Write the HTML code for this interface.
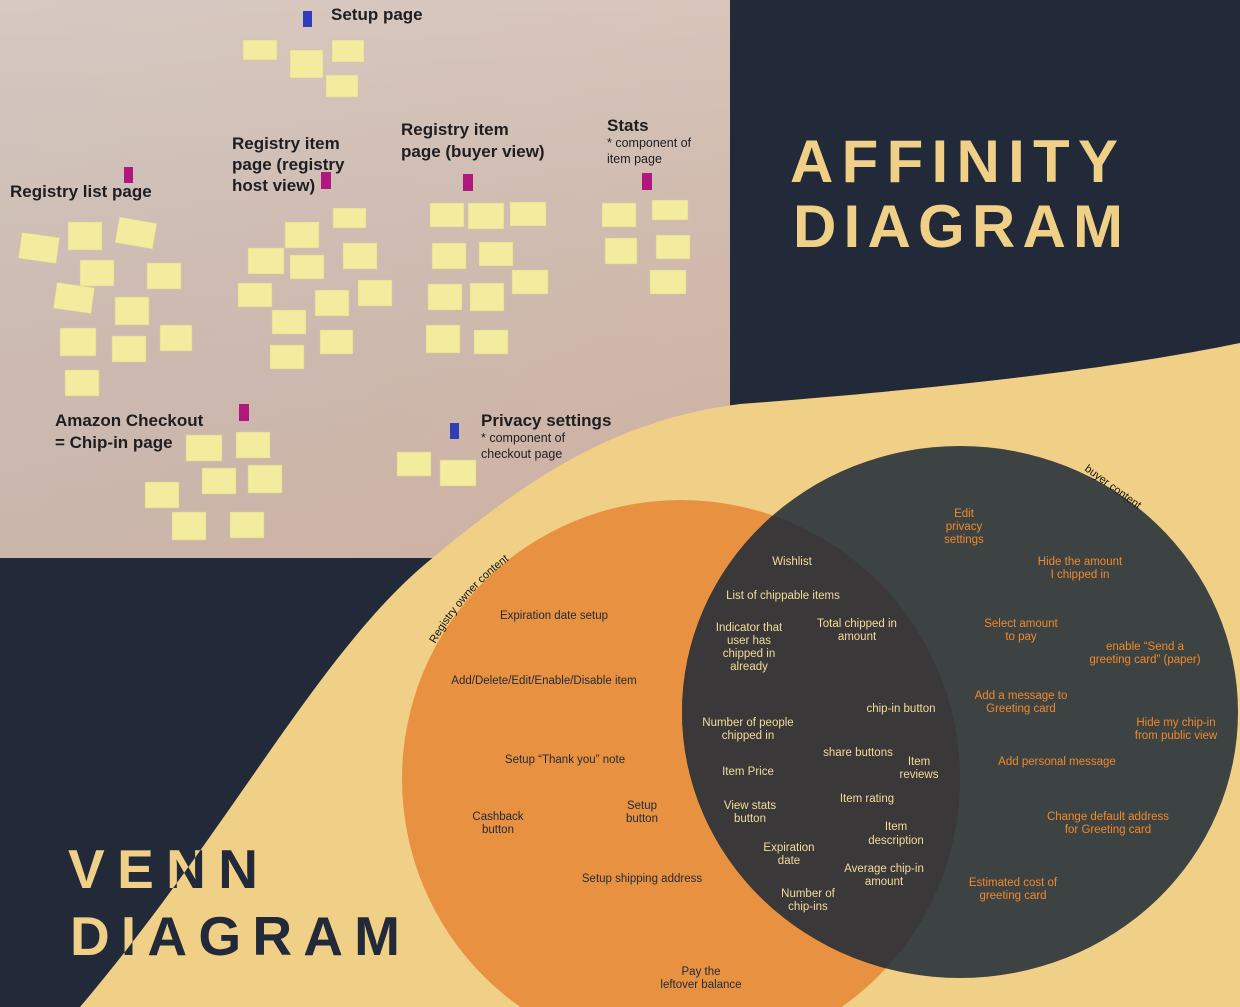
<!DOCTYPE html>
<html><head><meta charset="utf-8"><style>
html,body{margin:0;padding:0;background:#222a39;width:1240px;height:1007px;overflow:hidden;}
svg{display:block}
</style></head><body>
<svg width="1240" height="1007" viewBox="0 0 1240 1007" xmlns="http://www.w3.org/2000/svg" font-family="Liberation Sans, sans-serif">
<defs>
<linearGradient id="wall" x1="0" y1="0" x2="1" y2="1">
<stop offset="0" stop-color="#d6c9c2"/><stop offset="0.55" stop-color="#d8c4b9"/><stop offset="1" stop-color="#dcbfae"/>
</linearGradient>
<linearGradient id="wall2" x1="0" y1="0" x2="0" y2="1">
<stop offset="0" stop-color="#000" stop-opacity="0"/><stop offset="1" stop-color="#6a4a40" stop-opacity="0.12"/>
</linearGradient>
<clipPath id="wave"><path d="M80,1007 C230,830 320,650 430,560 C520,485 610,420 740,404 C900,392 1100,372 1240,343 L1240,1007 Z"/></clipPath>
<clipPath id="dk"><ellipse cx="960" cy="712" rx="278" ry="266"/></clipPath>
<path id="arcO" d="M418,680 A273,273 0 0 1 540,540"/>
</defs>
<rect width="1240" height="1007" fill="#222a39"/>
<rect x="0" y="0" width="730" height="558" fill="url(#wall)"/>
<rect x="0" y="0" width="730" height="558" fill="url(#wall2)"/>
<g fill="#f3ec9e" stroke="#d9d08a" stroke-width="0.5">
<rect x="243" y="40" width="34" height="20"/><rect x="290" y="50" width="33" height="28"/><rect x="332" y="40" width="32" height="22"/><rect x="326" y="75" width="32" height="22"/>
<rect x="20" y="235" width="38" height="26" transform="rotate(8 39 248)"/><rect x="68" y="222" width="34" height="28"/><rect x="117" y="220" width="38" height="26" transform="rotate(10 136 233)"/><rect x="80" y="260" width="34" height="26"/><rect x="147" y="263" width="34" height="26"/><rect x="55" y="285" width="38" height="26" transform="rotate(8 74 298)"/><rect x="115" y="297" width="34" height="28"/><rect x="160" y="325" width="32" height="26"/><rect x="60" y="328" width="36" height="28"/><rect x="112" y="336" width="34" height="26"/><rect x="65" y="370" width="34" height="26"/>
<rect x="285" y="222" width="34" height="26"/><rect x="333" y="208" width="33" height="20"/><rect x="248" y="248" width="36" height="26"/><rect x="290" y="255" width="34" height="24"/><rect x="343" y="243" width="34" height="26"/><rect x="238" y="283" width="34" height="24"/><rect x="315" y="290" width="34" height="26"/><rect x="358" y="280" width="34" height="26"/><rect x="272" y="310" width="34" height="24"/><rect x="320" y="330" width="33" height="24"/><rect x="270" y="345" width="34" height="24"/>
<rect x="430" y="203" width="34" height="24"/><rect x="468" y="203" width="36" height="26"/><rect x="510" y="202" width="36" height="24"/><rect x="432" y="243" width="34" height="26"/><rect x="479" y="242" width="34" height="24"/><rect x="512" y="270" width="36" height="24"/><rect x="428" y="284" width="34" height="26"/><rect x="470" y="283" width="34" height="28"/><rect x="426" y="325" width="34" height="28"/><rect x="474" y="330" width="34" height="24"/>
<rect x="602" y="203" width="34" height="24"/><rect x="652" y="200" width="36" height="20"/><rect x="605" y="238" width="32" height="26"/><rect x="656" y="235" width="34" height="24"/><rect x="650" y="270" width="36" height="24"/>
<rect x="186" y="435" width="36" height="26"/><rect x="236" y="432" width="34" height="26"/><rect x="202" y="468" width="34" height="26"/><rect x="248" y="465" width="34" height="28"/><rect x="145" y="482" width="34" height="26"/><rect x="172" y="512" width="34" height="28"/><rect x="230" y="512" width="34" height="26"/>
<rect x="397" y="452" width="34" height="24"/><rect x="440" y="460" width="36" height="26"/>
</g>
<g fill="#2f3eb8"><rect x="303" y="11" width="9" height="16"/><rect x="450" y="423" width="9" height="16"/></g>
<g fill="#b0187e"><rect x="124" y="167" width="9" height="16"/><rect x="321" y="172" width="10" height="17"/><rect x="463" y="174" width="10" height="17"/><rect x="642" y="173" width="10" height="17"/><rect x="239" y="404" width="10" height="17"/></g>
<g fill="#1e1e22" font-weight="bold" font-size="17">
<text x="331" y="20">Setup page</text>
<text x="10" y="197">Registry list page</text>
<text x="232" y="149">Registry item</text><text x="232" y="170">page (registry</text><text x="232" y="191">host view)</text>
<text x="401" y="135">Registry item</text><text x="401" y="157">page (buyer view)</text>
<text x="607" y="131">Stats</text>
<text x="55" y="426">Amazon Checkout</text><text x="55" y="448">= Chip-in page</text>
<text x="481" y="426">Privacy settings</text>
</g>
<g fill="#1e1e22" font-size="12.5">
<text x="607" y="147">* component of</text><text x="607" y="163">item page</text>
<text x="481" y="442">* component of</text><text x="481" y="458">checkout page</text>
</g>
<g fill="#f0d087" font-weight="bold" font-size="60">
<text x="790" y="182" textLength="328" lengthAdjust="spacing">AFFINITY</text>
<text x="793" y="247" textLength="330" lengthAdjust="spacing">DIAGRAM</text>
</g>
<g fill="#f0d087" font-weight="bold" font-size="55">
<text x="68" y="888" textLength="190" lengthAdjust="spacing">VENN</text>
<text x="70" y="955" textLength="330" lengthAdjust="spacing">DIAGRAM</text>
</g>
<path d="M80,1007 C230,830 320,650 430,560 C520,485 610,420 740,404 C900,392 1100,372 1240,343 L1240,1007 Z" fill="#f0d087"/>
<g clip-path="url(#wave)" fill="#222a39" font-weight="bold" font-size="55">
<text x="68" y="888" textLength="190" lengthAdjust="spacing">VENN</text>
<text x="70" y="955" textLength="330" lengthAdjust="spacing">DIAGRAM</text>
</g>
<circle cx="681" cy="779" r="279" fill="#e89241"/>
<ellipse cx="960" cy="712" rx="278" ry="266" fill="#3d4242"/>
<circle cx="681" cy="779" r="279" fill="#3a3838" clip-path="url(#dk)"/>
<text font-size="11" fill="#111"><textPath href="#arcO" startOffset="40">Registry owner content</textPath></text>
<text x="1084" y="470" font-size="11" fill="#111" transform="rotate(36 1084 470)">buyer content</text>
<g font-size="11.5" text-anchor="middle" fill="#222a39">
<text x="554" y="619">Expiration date setup</text>
<text x="544" y="684">Add/Delete/Edit/Enable/Disable item</text>
<text x="565" y="763">Setup “Thank you” note</text>
<text x="498" y="820">Cashback</text><text x="498" y="833">button</text>
<text x="642" y="809">Setup</text><text x="642" y="822">button</text>
<text x="642" y="882">Setup shipping address</text>
<text x="701" y="975">Pay the</text><text x="701" y="988">leftover balance</text>
</g>
<g font-size="11.5" text-anchor="middle" fill="#f3dc9c">
<text x="792" y="565">Wishlist</text>
<text x="783" y="599">List of chippable items</text>
<text x="749" y="631">Indicator that</text><text x="749" y="644">user has</text><text x="749" y="657">chipped in</text><text x="749" y="670">already</text>
<text x="857" y="627">Total chipped in</text><text x="857" y="640">amount</text>
<text x="901" y="712">chip-in button</text>
<text x="748" y="726">Number of people</text><text x="748" y="739">chipped in</text>
<text x="858" y="756">share buttons</text>
<text x="919" y="765">Item</text><text x="919" y="778">reviews</text>
<text x="748" y="775">Item Price</text>
<text x="867" y="802">Item rating</text>
<text x="750" y="809">View stats</text><text x="750" y="822">button</text>
<text x="896" y="830">Item</text><text x="896" y="844">description</text>
<text x="789" y="851">Expiration</text><text x="789" y="864">date</text>
<text x="884" y="872">Average chip-in</text><text x="884" y="885">amount</text>
<text x="808" y="897">Number of</text><text x="808" y="910">chip-ins</text>
</g>
<g font-size="11.5" text-anchor="middle" fill="#ef8a2e">
<text x="964" y="517">Edit</text><text x="964" y="530">privacy</text><text x="964" y="543">settings</text>
<text x="1080" y="565">Hide the amount</text><text x="1080" y="578">I chipped in</text>
<text x="1021" y="627">Select amount</text><text x="1021" y="640">to pay</text>
<text x="1145" y="650">enable “Send a</text><text x="1145" y="663">greeting card” (paper)</text>
<text x="1021" y="699">Add a message to</text><text x="1021" y="712">Greeting card</text>
<text x="1176" y="726">Hide my chip-in</text><text x="1176" y="739">from public view</text>
<text x="1057" y="765">Add personal message</text>
<text x="1108" y="820">Change default address</text><text x="1108" y="833">for Greeting card</text>
<text x="1013" y="886">Estimated cost of</text><text x="1013" y="899">greeting card</text>
</g>
</svg>
</body></html>
